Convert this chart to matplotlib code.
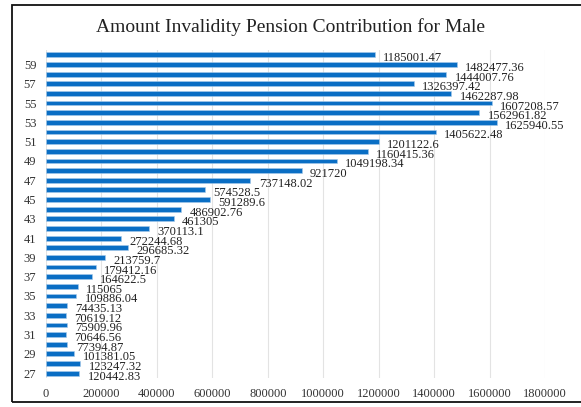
import matplotlib
matplotlib.use("Agg")
import matplotlib.pyplot as plt
from matplotlib.patches import Rectangle

ages = list(range(27, 61))
values = [120442.83, 123247.32, 101381.05, 77394.87, 70646.56, 75909.96, 70619.12,
          74435.13, 109886.04, 115065, 164622.5, 179412.16, 213759.7, 296685.32,
          272244.68, 370113.1, 461305, 486902.76, 591289.6, 574528.5, 737148.02,
          921720, 1049198.34, 1160415.36, 1201122.6, 1405622.48, 1625940.55,
          1562961.82, 1607208.57, 1462287.98, 1326397.42, 1444007.76, 1482477.36,
          1185001.47]
labels = ["120442.83", "123247.32", "101381.05", "77394.87", "70646.56", "75909.96",
          "70619.12", "74435.13", "109886.04", "115065", "164622.5", "179412.16",
          "213759.7", "296685.32", "272244.68", "370113.1", "461305", "486902.76",
          "591289.6", "574528.5", "737148.02", "921720", "1049198.34", "1160415.36",
          "1201122.6", "1405622.48", "1625940.55", "1562961.82", "1607208.57",
          "1462287.98", "1326397.42", "1444007.76", "1482477.36", "1185001.47"]
xticks = [0, 200000, 400000, 600000, 800000, 1000000, 1200000, 1400000, 1600000, 1800000]
title = "Amount Invalidity Pension Contribution for Male"

plt.rcParams['font.family'] = ['Liberation Serif', 'DejaVu Serif']

fig = plt.figure(figsize=(5.81, 4.07), dpi=100)
ax = fig.add_axes([46/581, 1 - 378/407, (545-46)/581, (378-50)/407])

pos = list(range(len(ages)))
ax.barh(pos, values, height=0.5, color='#0A6EC4', edgecolor='#A8CBEA', linewidth=0.4, zorder=3)
for p, v, t in zip(pos, values, labels):
    ax.annotate(t, xy=(v, p), xytext=(6, -2.5), textcoords='offset points',
                ha='left', va='center', fontsize=9, color='#222222', zorder=4)

ax.set_xlim(0, 1800000)
ax.set_ylim(-0.5, len(ages) - 0.5)
ax.set_xticks(xticks)
ax.set_xticklabels([str(x) for x in xticks], fontsize=9, color='#333333')
ax.set_yticks(pos[::2])
ax.set_yticklabels([str(a) for a in ages[::2]], fontsize=9, color='#333333')
ax.tick_params(axis='x', length=0, pad=7)
ax.tick_params(axis='y', length=0, pad=7)
ax.grid(axis='x', color='#E3E3E3', linewidth=0.8, zorder=0)
for s in ax.spines.values():
    s.set_visible(False)

fig.text(0.5, 1 - 27/407, title, ha='center', va='center', fontsize=14, color='#222222')
fig.patches.append(Rectangle((12/581, 1 - 402/407), 600/581, (402-5)/407,
                             transform=fig.transFigure, fill=False,
                             edgecolor='#111111', linewidth=1.3))

fig.savefig("out.png", dpi=100)
